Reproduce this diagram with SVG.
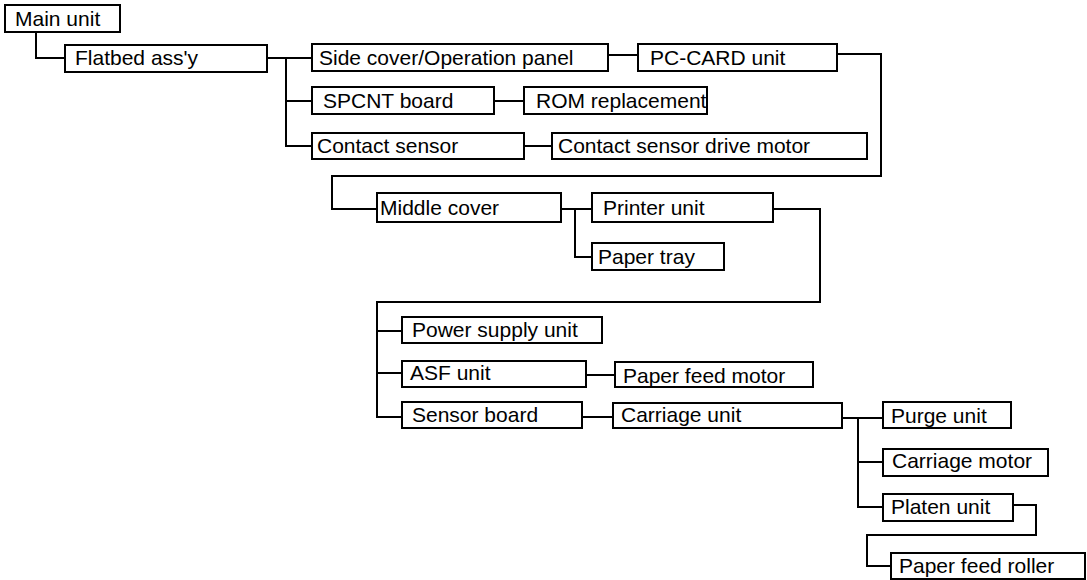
<svg xmlns="http://www.w3.org/2000/svg" width="1087" height="580" viewBox="0 0 1087 580">
<style>
.box{fill:#fff;stroke:#000;stroke-width:2}
.lbl{font-family:"Liberation Sans",Arial,sans-serif;font-size:21px;fill:#000}
.con{fill:none;stroke:#000;stroke-width:2}
</style>
<rect width="1087" height="580" fill="#fff"/>
<g id="connectors" class="con">
<path d="M36,32 V58 H65"/>
<path d="M267,58 H312 M286,58 V146 H312 M286,101 H312"/>
<path d="M608,55 H638"/>
<path d="M494,101 H524"/>
<path d="M524,146 H552"/>
<path d="M837,54 H881 V176 H332 V209 H377"/>
<path d="M561,209 H592 M575,209 V257 H592"/>
<path d="M773,209 H820 V302 H377 V417 H402 M377,331 H402 M377,373 H402"/>
<path d="M586,375 H615"/>
<path d="M582,417 H613"/>
<path d="M842,418 H883 M858,418 V507 H883 M858,462 H883"/>
<path d="M1013,505 H1036 V535 H867 V566 H891"/>
</g>
<g id="main-unit"><rect class="box" x="5" y="5" width="115" height="27"/><text class="lbl" x="15" y="26">Main unit</text></g>
<g id="flatbed"><rect class="box" x="65" y="45" width="202" height="27"/><text class="lbl" x="75" y="65">Flatbed ass'y</text></g>
<g id="side-cover"><rect class="box" x="312" y="44" width="296" height="27"/><text class="lbl" x="319" y="65">Side cover/Operation panel</text></g>
<g id="pc-card"><rect class="box" x="638" y="44" width="199" height="27"/><text class="lbl" x="650" y="65">PC-CARD unit</text></g>
<g id="spcnt"><rect class="box" x="312" y="87" width="182" height="27"/><text class="lbl" x="323" y="108">SPCNT board</text></g>
<g id="rom"><rect class="box" x="524" y="87" width="183" height="27"/><text class="lbl" x="536" y="108">ROM replacement</text></g>
<g id="contact-sensor"><rect class="box" x="312" y="133" width="212" height="26"/><text class="lbl" x="317" y="153">Contact sensor</text></g>
<g id="cs-motor"><rect class="box" x="552" y="133" width="315" height="26"/><text class="lbl" x="558" y="153">Contact sensor drive motor</text></g>
<g id="middle-cover"><rect class="box" x="377" y="193" width="184" height="29"/><text class="lbl" x="380" y="215">Middle cover</text></g>
<g id="printer-unit"><rect class="box" x="592" y="193" width="181" height="29"/><text class="lbl" x="603" y="215">Printer unit</text></g>
<g id="paper-tray"><rect class="box" x="592" y="243" width="132" height="27"/><text class="lbl" x="598" y="264">Paper tray</text></g>
<g id="power-supply"><rect class="box" x="402" y="317" width="200" height="26"/><text class="lbl" x="412" y="337">Power supply unit</text></g>
<g id="asf"><rect class="box" x="402" y="361" width="184" height="26"/><text class="lbl" x="410" y="380">ASF unit</text></g>
<g id="paper-feed-motor"><rect class="box" x="615" y="362" width="198" height="25"/><text class="lbl" x="623" y="383">Paper feed motor</text></g>
<g id="sensor-board"><rect class="box" x="402" y="402" width="180" height="26"/><text class="lbl" x="412" y="422">Sensor board</text></g>
<g id="carriage-unit"><rect class="box" x="613" y="403" width="229" height="25"/><text class="lbl" x="621" y="422">Carriage unit</text></g>
<g id="purge-unit"><rect class="box" x="883" y="402" width="128" height="26"/><text class="lbl" x="891" y="423">Purge unit</text></g>
<g id="carriage-motor"><rect class="box" x="883" y="449" width="165" height="27"/><text class="lbl" x="892" y="468">Carriage motor</text></g>
<g id="platen-unit"><rect class="box" x="883" y="494" width="130" height="27"/><text class="lbl" x="891" y="514">Platen unit</text></g>
<g id="paper-feed-roller"><rect class="box" x="891" y="553" width="194" height="26"/><text class="lbl" x="899" y="573">Paper feed roller</text></g>
</svg>
